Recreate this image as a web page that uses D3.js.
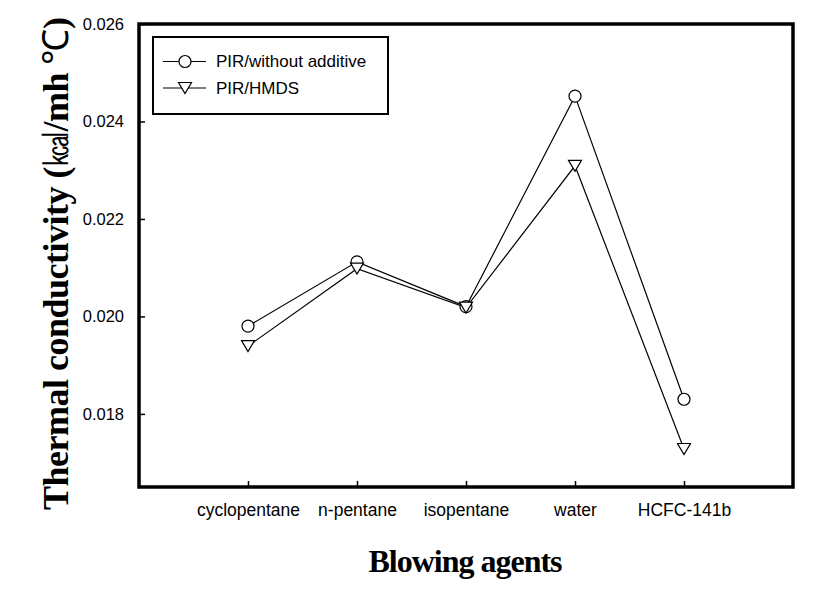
<!DOCTYPE html>
<html>
<head>
<meta charset="utf-8">
<script src="https://cdn.jsdelivr.net/npm/d3@7"></script>
<style>
  html, body { margin: 0; padding: 0; background: #fff; }
  svg { display: block; }
</style>
</head>
<body>
<svg id="chart" width="823" height="607"></svg>
<script>
const categories = ["cyclopentane", "n-pentane", "isopentane", "water", "HCFC-141b"];
const withoutAdditive = [0.0198, 0.02112, 0.0202, 0.02452, 0.0183];
const hmds = [0.01939, 0.02098, 0.02018, 0.02309, 0.01728];
const yTicks = [0.018, 0.020, 0.022, 0.024, 0.026];
const seriesNames = ["PIR/without additive", "PIR/HMDS"];

const svg = d3.select("#chart");
const L = 139, R = 793, T = 24, B = 487;

const x = d3.scaleLinear().domain([0, categories.length + 1]).range([L, R]);
const y = d3.scaleLinear().domain([0.0165, 0.026]).range([B, T]);

const sans = "'Liberation Sans', Arial, sans-serif";
const serif = "'Liberation Serif', 'Times New Roman', serif";

// Y axis
const yAxis = d3.axisLeft(y).tickValues(yTicks).tickFormat(d3.format(".3f"))
  .tickSizeInner(-6).tickSizeOuter(0).tickPadding(15);
const gy = svg.append("g").attr("transform", `translate(${L},0)`).call(yAxis);
gy.select(".domain").remove();
gy.selectAll(".tick line").attr("stroke", "#000").attr("stroke-width", 1.5);
gy.selectAll(".tick text").attr("font-family", sans).attr("font-size", 16.5).attr("fill", "#000");

// X axis
const xAxis = d3.axisBottom(x).tickValues(categories.map((c, i) => i + 1))
  .tickFormat((d) => categories[d - 1])
  .tickSizeInner(-6).tickSizeOuter(0).tickPadding(17);
const gx = svg.append("g").attr("transform", `translate(0,${B})`).call(xAxis);
gx.select(".domain").remove();
gx.selectAll(".tick line").attr("stroke", "#000").attr("stroke-width", 1.5);
gx.selectAll(".tick text").attr("font-family", sans).attr("font-size", 17.5).attr("fill", "#000");

// Frame
svg.append("rect").attr("x", L).attr("y", T).attr("width", R - L).attr("height", B - T)
  .attr("fill", "none").attr("stroke", "#000").attr("stroke-width", 3.5);

// Lines
const line = d3.line().x((d, i) => x(i + 1)).y((d) => y(d));
[withoutAdditive, hmds].forEach((s) => {
  svg.append("path").attr("d", line(s)).attr("fill", "none")
    .attr("stroke", "#000").attr("stroke-width", 1.2);
});

const circleSym = d3.symbol().type(d3.symbolCircle).size(Math.PI * 36);
function triPath(cx, cy) {
  const w = 6.5, h = 11;
  return `M${cx - w},${cy - h / 2}L${cx + w},${cy - h / 2}L${cx},${cy + h / 2}Z`;
}

svg.append("g").selectAll("path").data(withoutAdditive).join("path")
  .attr("transform", (d, i) => `translate(${x(i + 1)},${y(d)})`)
  .attr("d", circleSym()).attr("fill", "#fff").attr("stroke", "#000").attr("stroke-width", 1.2);

svg.append("g").selectAll("path").data(hmds).join("path")
  .attr("d", (d, i) => triPath(x(i + 1), y(d)))
  .attr("fill", "#fff").attr("stroke", "#000").attr("stroke-width", 1.2);

// Legend
const lg = svg.append("g");
lg.append("rect").attr("x", 153).attr("y", 37).attr("width", 235).attr("height", 77)
  .attr("fill", "#fff").attr("stroke", "#000").attr("stroke-width", 2);
const rows = [61.5, 88];
seriesNames.forEach((name, k) => {
  const cy = rows[k];
  lg.append("line").attr("x1", 163).attr("x2", 206).attr("y1", cy).attr("y2", cy)
    .attr("stroke", "#000").attr("stroke-width", 1.2);
  if (k === 0) {
    lg.append("path").attr("transform", `translate(185,${cy})`).attr("d", circleSym())
      .attr("fill", "#fff").attr("stroke", "#000").attr("stroke-width", 1.2);
  } else {
    lg.append("path").attr("d", triPath(185, cy))
      .attr("fill", "#fff").attr("stroke", "#000").attr("stroke-width", 1.2);
  }
  lg.append("text").attr("x", 216).attr("y", cy).attr("dy", "0.35em")
    .attr("font-family", sans).attr("font-size", 17).attr("fill", "#000").text(name);
});

// Axis titles
svg.append("text").attr("x", 465).attr("y", 572).attr("text-anchor", "middle")
  .attr("font-family", serif).attr("font-weight", "bold").attr("font-size", 32)
  .attr("letter-spacing", -1).attr("fill", "#000").text("Blowing agents");

const yt = svg.append("text").attr("transform", "translate(68,510) rotate(-90)")
  .attr("text-anchor", "start").attr("font-family", serif).attr("font-weight", "bold")
  .attr("font-size", 36).attr("letter-spacing", -0.5).attr("fill", "#000");
yt.append("tspan").text("Thermal conductivity (");
yt.append("tspan").attr("font-weight", "normal").text("㎉");
yt.append("tspan").text("/mh ");
yt.append("tspan").attr("font-weight", "normal").text("℃");
yt.append("tspan").text(")");
</script>
</body>
</html>
